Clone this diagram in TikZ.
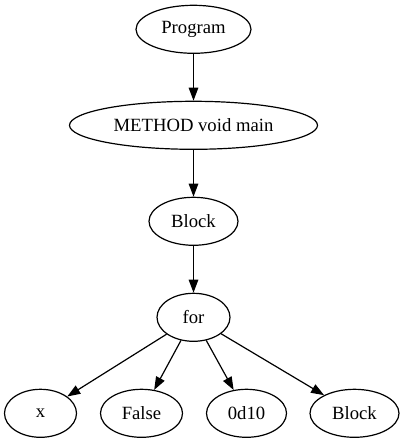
\documentclass[tikz,border=0pt]{standalone}
\usepackage{fontspec}
\setmainfont{Liberation Serif}
\usetikzlibrary{shapes.geometric,arrows.meta}
\begin{document}
\begin{tikzpicture}[x=1pt,y=1pt,
  nd/.style={draw,ellipse,line width=1.2pt,inner sep=0pt,minimum height=48pt,
    font=\fontsize{18.67}{22}\selectfont},
  edge/.style={line width=1.2pt,-{Triangle[length=13pt,width=9.5pt]}}]
\useasboundingbox (0,0) rectangle (403,-443);
\node[nd,minimum width=115pt] (prog) at (193.5,-29.3) {Program};
\node[nd,minimum width=248pt] (meth) at (193.5,-125.3) {METHOD void main};
\node[nd,minimum width=89pt] (blk1) at (193.5,-221.3) {Block};
\node[nd,minimum width=73pt] (for) at (193.5,-317.3) {for};
\node[nd,minimum width=72pt] (x) at (40.5,-413.3) {x};
\node[nd,minimum width=82pt] (false) at (141.5,-413.3) {False};
\node[nd,minimum width=80pt] (d) at (246.5,-413.3) {0d10};
\node[nd,minimum width=89pt] (blk2) at (354.5,-413.3) {Block};
\draw[edge] (prog) -- (meth);
\draw[edge] (meth) -- (blk1);
\draw[edge] (blk1) -- (for);
\draw[edge] (for) -- (x);
\draw[edge] (for) -- (false);
\draw[edge] (for) -- (d);
\draw[edge] (for) -- (blk2);
\end{tikzpicture}
\end{document}
